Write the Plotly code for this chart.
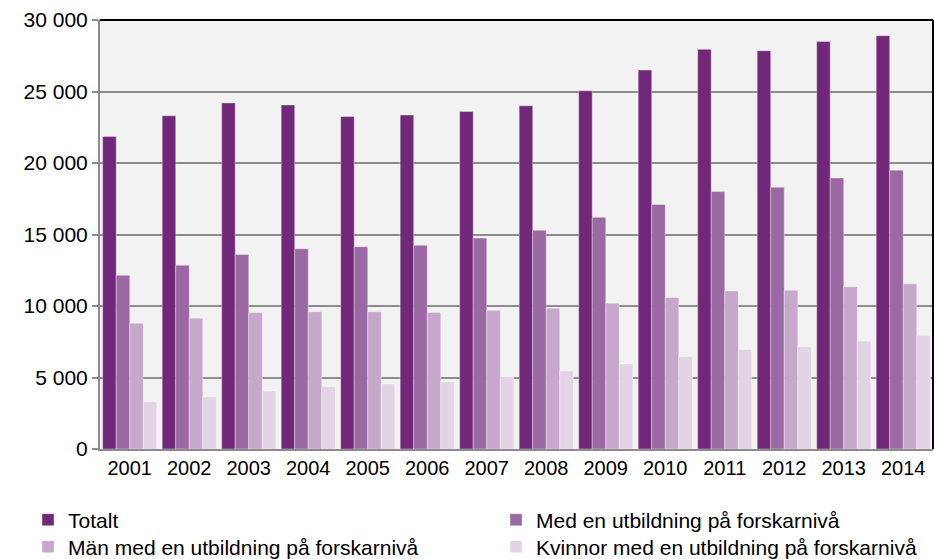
import plotly.graph_objects as go

years = ["2001", "2002", "2003", "2004", "2005", "2006", "2007",
         "2008", "2009", "2010", "2011", "2012", "2013", "2014"]
totalt = [21850, 23300, 24200, 24050, 23250, 23350, 23600,
          24000, 25050, 26500, 27950, 27850, 28500, 28900]
med_forskar = [12150, 12850, 13600, 14000, 14150, 14250, 14750,
               15300, 16200, 17100, 18000, 18300, 18950, 19500]
man_forskar = [8800, 9150, 9550, 9600, 9600, 9550, 9700,
               9850, 10200, 10600, 11050, 11100, 11350, 11550]
kvinnor_forskar = [3300, 3650, 4050, 4350, 4550, 4700, 5050,
                   5450, 5950, 6450, 6950, 7150, 7550, 7950]

names = ["Totalt", "Med en utbildning på forskarnivå",
         "Män med en utbildning på forskarnivå",
         "Kvinnor med en utbildning på forskarnivå"]
colors = ["#722878", "#9B69A2", "#C6A8CB", "#E2D4E4"]
legends = ["legend", "legend2", "legend3", "legend4"]
series = [totalt, med_forskar, man_forskar, kvinnor_forskar]

fig = go.Figure()
for name, vals, col, lg in zip(names, series, colors, legends):
    fig.add_trace(go.Bar(
        x=years, y=vals, name=name, legend=lg,
        marker=dict(color=col, line=dict(color="rgba(255,255,255,0.45)", width=0.8)),
    ))

font_family = "Liberation Sans, Arial, sans-serif"


def leg(x, y):
    return dict(x=x, xanchor="left", y=y, yanchor="middle",
                orientation="v", font=dict(size=21),
                bgcolor="rgba(0,0,0,0)", itemwidth=30)


fig.update_layout(
    width=934, height=559,
    margin=dict(l=100, r=1, t=20, b=110, autoexpand=False),
    paper_bgcolor="white",
    plot_bgcolor="#F2F2F2",
    barmode="group",
    bargap=0.09,
    bargroupgap=0,
    separators=", ",
    font=dict(family=font_family, size=20, color="#000000"),
    showlegend=True,
    legend=leg(-0.0864, -0.1655),
    legend2=leg(0.4754, -0.1655),
    legend3=leg(-0.0864, -0.2284),
    legend4=leg(0.4754, -0.2284),
    xaxis=dict(showline=True, linecolor="#8C8C8C", linewidth=2,
               ticks="", tickfont=dict(size=20), automargin=False),
    yaxis=dict(range=[0, 30000], tickvals=[0, 5000, 10000, 15000, 20000, 25000, 30000],
               tickformat=",d", showgrid=True, gridcolor="#8C8C8C", gridwidth=1.5,
               showline=True, linecolor="#8C8C8C", linewidth=2,
               ticks="outside", ticklen=6, tickcolor="#8C8C8C", tickwidth=1.5,
               tickfont=dict(size=21), zeroline=False, automargin=False),
    shapes=[
        dict(type="line", xref="paper", yref="paper", x0=0, x1=1, y0=1, y1=1,
             line=dict(color="black", width=2)),
        dict(type="line", xref="paper", yref="paper", x0=1, x1=1, y0=0, y1=1,
             line=dict(color="black", width=2)),
    ],
)

fig.write_html(
    "out.html",
    config={"displayModeBar": False},
    post_script="document.body.style.margin='0px';document.body.style.overflow='hidden';",
)
